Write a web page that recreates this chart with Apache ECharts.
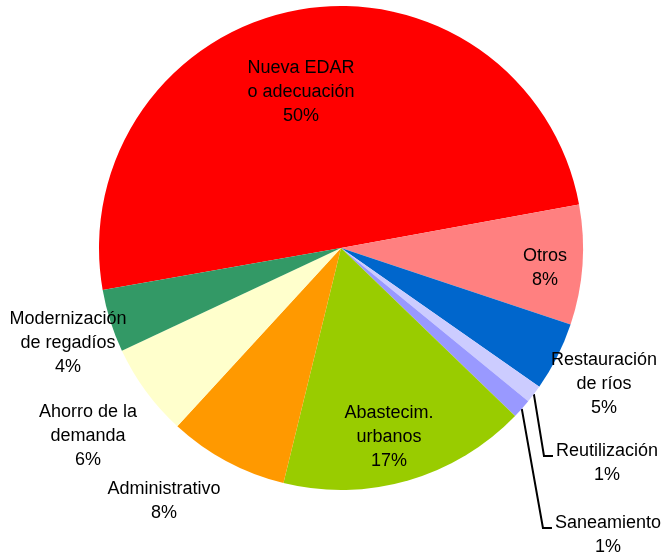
<!DOCTYPE html>
<html>
<head>
<meta charset="utf-8">
<script src="https://cdn.jsdelivr.net/npm/echarts@6/dist/echarts.min.js"></script>
<style>
  html, body { margin: 0; padding: 0; background: #fff; }
  #chart { width: 664px; height: 554px; }
</style>
</head>
<body>
<div id="chart"></div>
<script>
// categories and shares (percent of total), clockwise from the left edge
var categories = [
	'Nueva EDAR\no adecuación',
	'Otros',
	'Restauración\nde ríos',
	'Reutilización',
	'Saneamiento',
	'Abastecim.\nurbanos',
	'Administrativo',
	'Ahorro de la\ndemanda',
	'Modernización\nde regadíos'
];
var shares = [49.9, 8.0, 4.6, 1.2, 1.3, 16.6, 8.0, 6.2, 4.2];
var colors = ['#ff0000', '#ff8080', '#0066cc', '#ccccff', '#9999ff', '#99cc00', '#ff9900', '#ffffcc', '#339966'];

// where each label block sits (centre), and which ones get a leader line
var labelSpots = [
	[301, 92], [545, 268], [604, 384], [607, 463], [608, 535],
	[389, 437], [164, 501], [88, 436], [68, 343]
];
var withLine = [false, false, false, true, true, false, false, false, false];

var myChart = echarts.init(document.getElementById('chart'));

var pieData = categories.map(function (name, i) {
	return {
		name: name,
		value: shares[i],
		itemStyle: { color: colors[i] },
		labelLine: { show: withLine[i] }
	};
});

myChart.setOption({
	animation: false,
	series: [{
		type: 'pie',
		center: [341, 248],
		radius: 242,
		startAngle: 190,
		clockwise: true,
		avoidLabelOverlap: false,
		itemStyle: { borderWidth: 0 },
		label: {
			show: true,
			position: 'outside',
			fontFamily: 'Liberation Sans, Arial, sans-serif',
			fontSize: 18,
			lineHeight: 24,
			color: '#000',
			align: 'center',
			formatter: function (p) {
				return p.name + '\n' + Math.round(p.percent) + '%';
			}
		},
		labelLine: {
			lineStyle: { color: '#000', width: 2 }
		},
		labelLayout: function (params) {
			var i = params.dataIndex;
			var spot = labelSpots[i];
			var res = {
				x: spot[0],
				y: spot[1],
				align: 'center',
				verticalAlign: 'middle'
			};
			if (withLine[i] && params.labelLinePoints) {
				var a = params.labelLinePoints[0];
				var textLeft = spot[0] - params.labelRect.width / 2 - 3;
				var yMid = spot[1] - 7;
				res.labelLinePoints = [[a[0], a[1]], [textLeft - 9, yMid], [textLeft, yMid]];
			}
			return res;
		},
		data: pieData
	}]
});
</script>
</body>
</html>
